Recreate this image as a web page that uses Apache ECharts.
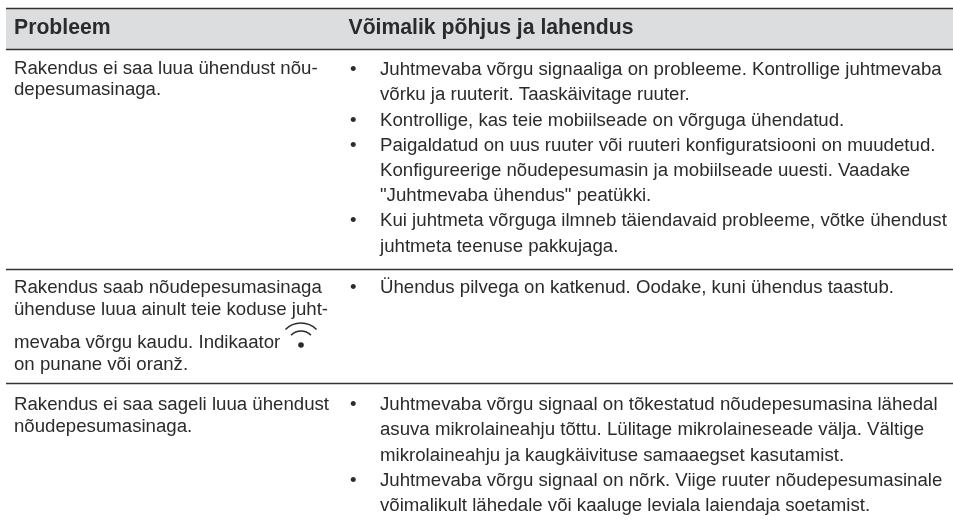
<!DOCTYPE html>
<html><head><meta charset="utf-8"><style>html,body{margin:0;padding:0;background:#fff}#c{width:953px;height:523px}</style>
<script src="https://cdn.jsdelivr.net/npm/echarts@6/dist/echarts.min.js"></script></head><body><div id="c"></div>
<script>
const headers = ["Probleem", "Võimalik põhjus ja lahendus"];
const problemLines = [
  ["Rakendus ei saa luua ühendust nõu-", "depesumasinaga."],
  ["Rakendus saab nõudepesumasinaga", "ühenduse luua ainult teie koduse juht-", "mevaba võrgu kaudu. Indikaator", "on punane või oranž."],
  ["Rakendus ei saa sageli luua ühendust", "nõudepesumasinaga."]
];
const solutionLines = [
  [["Juhtmevaba võrgu signaaliga on probleeme. Kontrollige juhtmevaba", "võrku ja ruuterit. Taaskäivitage ruuter."],
   ["Kontrollige, kas teie mobiilseade on võrguga ühendatud."],
   ["Paigaldatud on uus ruuter või ruuteri konfiguratsiooni on muudetud.", "Konfigureerige nõudepesumasin ja mobiilseade uuesti. Vaadake", "\"Juhtmevaba ühendus\" peatükki."],
   ["Kui juhtmeta võrguga ilmneb täiendavaid probleeme, võtke ühendust", "juhtmeta teenuse pakkujaga."]],
  [["Ühendus pilvega on katkenud. Oodake, kuni ühendus taastub."]],
  [["Juhtmevaba võrgu signaal on tõkestatud nõudepesumasina lähedal", "asuva mikrolaineahju tõttu. Lülitage mikrolaineseade välja. Vältige", "mikrolaineahju ja kaugkäivituse samaaegset kasutamist."],
   ["Juhtmevaba võrgu signaal on nõrk. Viige ruuter nõudepesumasinale", "võimalikult lähedale või kaaluge leviala laiendaja soetamist."]]
];
const problemLineY = [[69,90],[288,310,343,365],[405,427]];
const solutionTopY = [70,288,405];
const font = '"Liberation Sans", Arial, sans-serif';
const lh = 25.2, fs = 18.65;
const els = [];
const ink = '#2b2b2b';
const txt = (x, y, s, size, weight) => els.push({type:'text', silent:true, style:{x, y, text:s, fill:ink, font:`${weight||'normal'} ${size}px ${font}`, textVerticalAlign:'middle', textAlign:'left'}});
const line = (y, w) => els.push({type:'line', silent:true, shape:{x1:6,y1:y,x2:953,y2:y}, style:{stroke:'#333', lineWidth:w}});
els.push({type:'rect', silent:true, shape:{x:6,y:8,width:947,height:41}, style:{fill:'#dcdddf'}});
line(8.5,1.5); line(49.5,1.5); line(269.5,1.5); line(383.5,1.5);
txt(14,28.5,headers[0],21.2,'bold'); txt(348.5,28.5,headers[1],21.2,'bold');
problemLines.forEach((r,i)=>r.forEach((s,j)=>txt(14,problemLineY[i][j],s,fs)));
solutionLines.forEach((r,i)=>{let y=solutionTopY[i];
  r.forEach(b=>{ txt(350,y,'•',fs); b.forEach(s=>{txt(380,y,s,fs); y+=lh;}); });
});
const cx=301, cy=345;
els.push({type:'circle',silent:true,shape:{cx,cy,r:2.8},style:{fill:ink}});
[14,22].forEach(r=>els.push({type:'arc',silent:true,shape:{cx,cy,r,startAngle:-Math.PI*0.75,endAngle:-Math.PI*0.25},style:{stroke:ink,lineWidth:1.5,fill:'none'}}));
echarts.init(document.getElementById('c'),null,{renderer:'canvas'}).setOption({animation:false,backgroundColor:'#fff',graphic:{elements:els}});
</script></body></html>
